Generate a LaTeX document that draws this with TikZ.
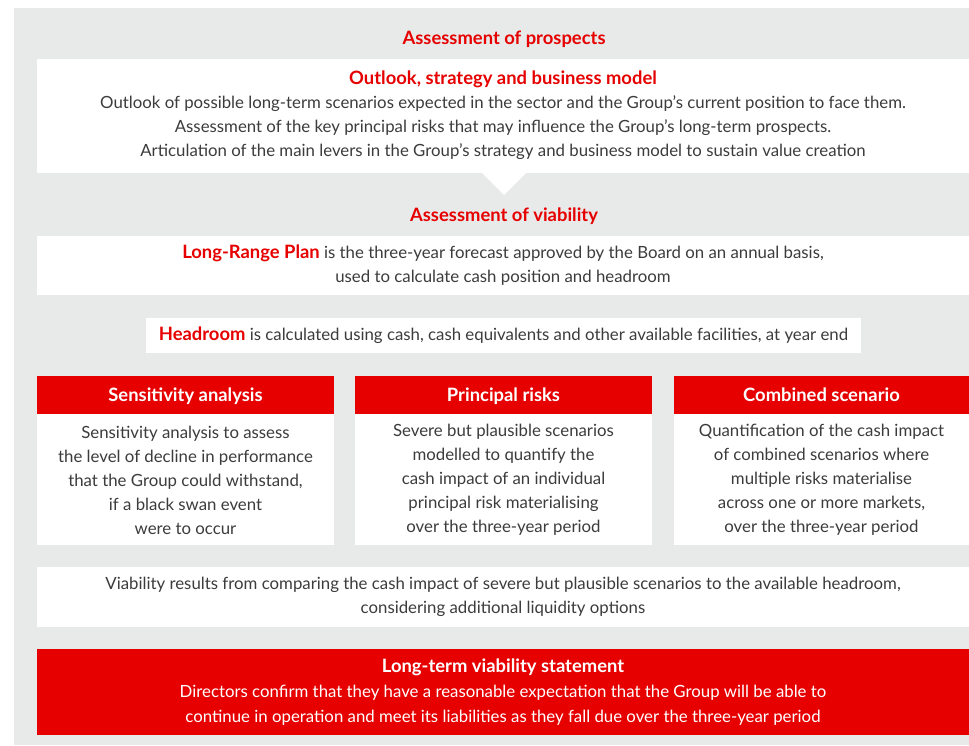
\documentclass[tikz,border=0pt]{standalone}
\usepackage{fontspec}
\setmainfont{Lato}
\usetikzlibrary{positioning}
\definecolor{vred}{HTML}{E60000}
\definecolor{panelgrey}{HTML}{E8E9E9}
\definecolor{bodytext}{HTML}{3C3C3C}
\newcommand{\bodyfont}{\fontsize{16.8}{24}\selectfont}
\newcommand{\boldfont}{\fontsize{18.4}{24}\selectfont\bfseries}
\newcommand{\redword}[1]{{\boldfont\color{vred}#1}}
\tikzset{
    panel/.style={fill=white, inner sep=0pt, text=bodytext, align=center, font=\bodyfont},
    heading/.style={inner sep=0pt, text=vred, font=\boldfont, text height=14pt, text depth=2pt},
    colhead/.style={fill=vred, inner sep=0pt, text=white, font=\boldfont,
        text height=14pt, text depth=2pt, minimum height=38pt},
    colbody/.style={panel, minimum height=131pt}
}

\begin{document}
\begin{tikzpicture}[x=1pt, y=-1pt]
            \useasboundingbox (0,0) rectangle (969,745);
            \fill[panelgrey] (14,8) rectangle (969,745);
            \node[heading] (prospects) at (504,38) {Assessment of prospects};
            \node[panel, minimum width=932pt, minimum height=114pt] (outlook) at (503,115.5)
                {\redword{Outlook, strategy and business model}\\
                 Outlook of possible long-term scenarios expected in the sector and the Group’s current position to face them.\\
                 Assessment of the key principal risks that may influence the Group’s long-term prospects.\\
                 Articulation of the main levers in the Group’s strategy and business model to sustain value creation};
            \fill[white] (481,172) -- (527,172) -- (504,195) -- cycle;
            \node[heading] (viability) at (504,215) {Assessment of viability};
            \node[panel, minimum width=932pt, minimum height=59pt] (lrp) at (503,265.5)
                {\redword{Long-Range Plan} is the three-year forecast approved by the Board on an annual basis,\\
                 used to calculate cash position and headroom};
            \node[panel, minimum width=715pt, minimum height=35pt] (headroom) at (503.5,335.5)
                {\redword{Headroom} is calculated using cash, cash equivalents and other available facilities, at year end};
            \node[colhead, minimum width=297pt] (senshead) at (185.5,395) {Sensitivity analysis};
            \node[colbody, minimum width=297pt, below=0pt of senshead] (sensbody)
                {Sensitivity analysis to assess\\the level of decline in performance\\that the Group could withstand,\\if a black swan event\\were to occur};
            \node[colhead, minimum width=297pt] (riskhead) at (503.5,395) {Principal risks};
            \node[colbody, minimum width=297pt, below=0pt of riskhead] (riskbody)
                {Severe but plausible scenarios\\modelled to quantify the\\cash impact of an individual\\principal risk materialising\\over the three-year period};
            \node[colhead, minimum width=295pt] (combhead) at (821.5,395) {Combined scenario};
            \node[colbody, minimum width=295pt, below=0pt of combhead] (combbody)
                {Quantification of the cash impact\\of combined scenarios where\\multiple risks materialise\\across one or more markets,\\over the three-year period};
            \node[panel, minimum width=932pt, minimum height=60pt] (results) at (503,597)
                {Viability results from comparing the cash impact of severe but plausible scenarios to the available headroom,\\
                 considering additional liquidity options};
            \node[panel, fill=vred, text=white, minimum width=932pt, minimum height=86pt] (statement) at (503,692)
                {{\boldfont Long-term viability statement}\\[1pt]
                 Directors confirm that they have a reasonable expectation that the Group will be able to\\[1pt]
                 continue in operation and meet its liabilities as they fall due over the three-year period};
        \end{tikzpicture}
\end{document}
